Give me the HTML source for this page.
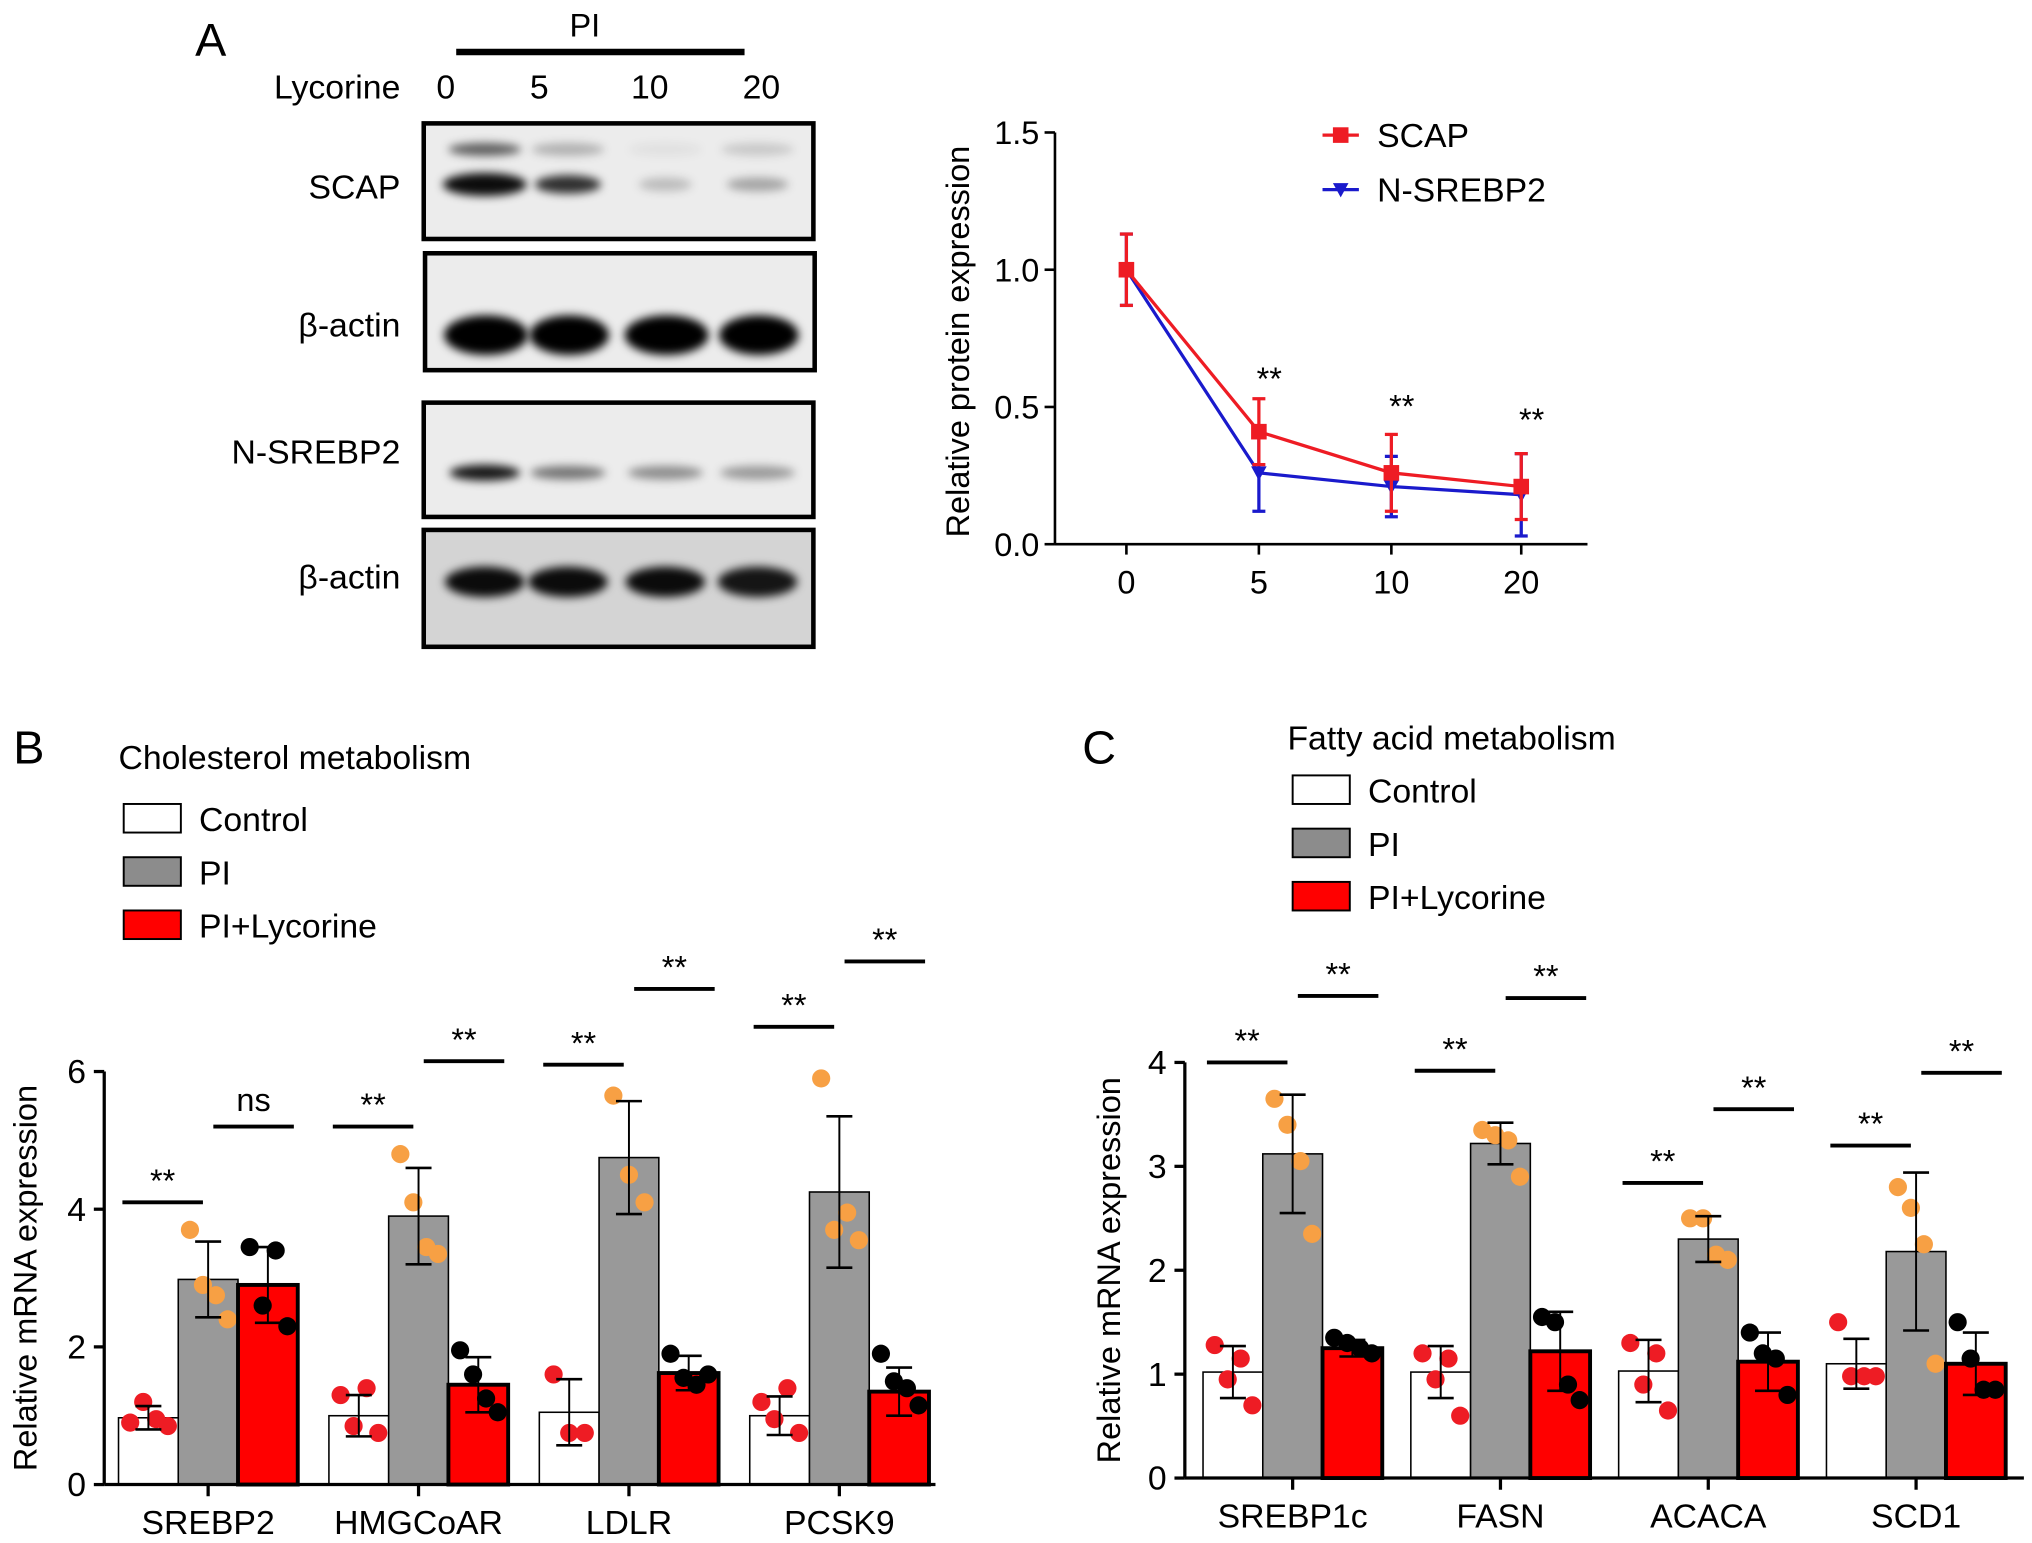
<!DOCTYPE html>
<html><head><meta charset="utf-8"><style>
html,body{margin:0;padding:0;background:#fff}
svg{display:block;font-family:"Liberation Sans",Arial,sans-serif}
</style></head><body>
<svg id="fig" width="2032" height="1543" viewBox="0 0 1564 1188" xmlns="http://www.w3.org/2000/svg">
<defs>
<filter id="blur" x="-50%" y="-100%" width="200%" height="300%"><feGaussianBlur stdDeviation="3.5"/></filter>
</defs>
<g id="panelA">
<text x="150" y="43" font-size="36">A</text>
<text x="450" y="28" font-size="25" text-anchor="middle">PI</text>
<line x1="351" y1="40" x2="573" y2="40" stroke="#000" stroke-width="5"/>
<text x="308" y="76" font-size="26" text-anchor="end">Lycorine</text>
<text x="343" y="76" font-size="26" text-anchor="middle">0</text>
<text x="415" y="76" font-size="26" text-anchor="middle">5</text>
<text x="500" y="76" font-size="26" text-anchor="middle">10</text>
<text x="586" y="76" font-size="26" text-anchor="middle">20</text>
<text x="308" y="153" font-size="26" text-anchor="end">SCAP</text>
<text x="308" y="259" font-size="26" text-anchor="end">β-actin</text>
<text x="308" y="357" font-size="26" text-anchor="end">N-SREBP2</text>
<text x="308" y="453" font-size="26" text-anchor="end">β-actin</text>
<g id="blots"></g>
<g id="lineChart"></g>
</g>
<g id="panelB"></g>
<g id="panelC"></g>
</svg>
<script>
// ===== Panel A line chart data =====
const doseLabels = ['0','5','10','20'];
const scapMean = [1.0, 0.41, 0.26, 0.21];
const scapErr = [0.13, 0.12, 0.14, 0.12];
const srebpMean = [1.0, 0.26, 0.21, 0.18];
const srebpErr = [0.13, 0.14, 0.11, 0.15];
const lineYTicks = [0, 0.5, 1.0, 1.5];
const lineSig = ['', '**', '**', '**'];
const lineSigVal = [0, 0.6, 0.5, 0.45];

// ===== Panel B data =====
const bGenes = ['SREBP2','HMGCoAR','LDLR','PCSK9'];
const bCtrl = [0.97, 1.0, 1.05, 1.0];
const bCtrlErr = [0.17, 0.3, 0.48, 0.28];
const bPI = [2.98, 3.9, 4.75, 4.25];
const bPIErr = [0.55, 0.7, 0.82, 1.1];
const bLyc = [2.9, 1.45, 1.62, 1.35];
const bLycErr = [0.55, 0.4, 0.25, 0.35];
const bCtrlPts = [[0.9,1.2,0.95,0.85],[1.3,0.85,1.4,0.75],[1.6,0.75,0.75],[1.2,0.95,1.4,0.75]];
const bPIPts = [[3.7,2.9,2.75,2.4],[4.8,4.1,3.45,3.35],[5.65,4.5,4.1],[5.9,3.7,3.95,3.55]];
const bLycPts = [[3.45,2.6,3.4,2.3],[1.95,1.6,1.25,1.05],[1.9,1.55,1.45,1.6],[1.9,1.5,1.4,1.15]];
const bYTicks = [0,2,4,6];
const bSigLeft = ['**','**','**','**'];
const bSigLeftVal = [4.1, 5.2, 6.1, 6.65];
const bSigRight = ['ns','**','**','**'];
const bSigRightVal = [5.2, 6.15, 7.2, 7.6];

// ===== Panel C data =====
const cGenes = ['SREBP1c','FASN','ACACA','SCD1'];
const cCtrl = [1.02, 1.02, 1.03, 1.1];
const cCtrlErr = [0.25, 0.25, 0.3, 0.24];
const cPI = [3.12, 3.22, 2.3, 2.18];
const cPIErr = [0.57, 0.2, 0.22, 0.76];
const cLyc = [1.25, 1.22, 1.12, 1.1];
const cLycErr = [0.08, 0.38, 0.28, 0.3];
const cCtrlPts = [[1.28,0.95,1.15,0.7],[1.2,0.95,1.15,0.6],[1.3,0.9,1.2,0.65],[1.5,0.98,0.98,0.98]];
const cPIPts = [[3.65,3.4,3.05,2.35],[3.35,3.3,3.25,2.9],[2.5,2.5,2.15,2.1],[2.8,2.6,2.25,1.1]];
const cLycPts = [[1.35,1.3,1.25,1.2],[1.55,1.5,0.9,0.75],[1.4,1.2,1.15,0.8],[1.5,1.15,0.85,0.85]];
const cYTicks = [0,1,2,3,4];
const cSigLeft = ['**','**','**','**'];
const cSigLeftVal = [4.0, 3.92, 2.84, 3.2];
const cSigRightVal = [4.64, 4.62, 3.55, 3.9];
const cSigRight = ['**','**','**','**'];

const NS = 'http://www.w3.org/2000/svg';
function mk(parent, tag, attrs, text){
  const e = document.createElementNS(NS, tag);
  for (const k in attrs) e.setAttribute(k, attrs[k]);
  if (text !== undefined) e.textContent = text;
  parent.appendChild(e);
  return e;
}

// ===== Blots =====
(function(){
  const g = document.getElementById('blots');
  const boxes = [
    {x:326,y:95,w:300,h:89,name:'blot-scap',bands:[[0.95,0.95,0.1],[0.8,0.75,0.08],[0.2,0.6,0.06],[0.3,0.7,0.06]],by:47,h2:[[0.6],[0.25],[0.05],[0.15]]},
    {x:327,y:195,w:300,h:90,name:'blot-actin-1',bands:[[1,0.95,0.17],[1,0.9,0.17],[1,0.95,0.17],[1,0.9,0.17]],by:63},
    {x:326,y:310,w:300,h:88,name:'blot-nsrebp2',bands:[[0.9,0.8,0.07],[0.5,0.85,0.06],[0.4,0.85,0.06],[0.35,0.85,0.06]],by:54},
    {x:326,y:408,w:300,h:90,name:'blot-actin-2',bands:[[0.95,0.9,0.13],[0.95,0.9,0.13],[0.95,0.9,0.13],[0.9,0.9,0.13]],by:40}
  ];
  const lanes = [47, 111, 186, 257];
  boxes.forEach(b => {
    const bg = mk(g,'g',{});
    
    
    mk(bg,'rect',{x:b.x,y:b.y,width:b.w,height:b.h,fill: b.name==='blot-actin-2' ? '#d4d4d4' : '#ececec'});
    b.bands.forEach((bd,i) => {
      const band = mk(bg,'ellipse',{cx:b.x+lanes[i],cy:b.y+b.by,rx:34*bd[1],ry:b.h*bd[2],fill:'#000','fill-opacity':bd[0],filter:'url(#blur)'});
      
      
      if (b.h2) mk(bg,'ellipse',{cx:b.x+lanes[i],cy:b.y+20,rx:28,ry:5,fill:'#000','fill-opacity':b.h2[i][0],filter:'url(#blur)'});
    });
    mk(bg,'rect',{x:b.x,y:b.y,width:b.w,height:b.h,fill:'none',stroke:'#000','stroke-width':3.5});
  });
})();

// ===== Line chart =====
(function(){
  const g = document.getElementById('lineChart');
  const x0 = 812, yB = 419, yT = 102;
  const xs = [867, 969, 1071, 1171];
  const ySc = v => yB - (v/1.5)*(yB-yT);
  const xSc = i => xs[i];
  mk(g,'line',{x1:x0,y1:yB,x2:1222,y2:yB,stroke:'#000','stroke-width':2});
  mk(g,'line',{x1:x0,y1:yT,x2:x0,y2:yB,stroke:'#000','stroke-width':2});
  lineYTicks.forEach(t => {
    mk(g,'line',{x1:x0-8,y1:ySc(t),x2:x0,y2:ySc(t),stroke:'#000','stroke-width':2});
    const tl = mk(g,'text',{x:x0-12,y:ySc(t)+9,'font-size':25,'text-anchor':'end'}, t.toFixed(1));
    
    
  });
  doseLabels.forEach((d,i) => {
    mk(g,'line',{x1:xSc(i),y1:yB,x2:xSc(i),y2:yB+8,stroke:'#000','stroke-width':2});
    const tl = mk(g,'text',{x:xSc(i),y:yB+38,'font-size':25,'text-anchor':'middle'}, d);
    
    
  });
  const yl = mk(g,'text',{x:0,y:0,'font-size':25,'text-anchor':'middle',transform:`translate(746,263) rotate(-90)`}, 'Relative protein expression');
  
  
  function series(mean, err, color, name, marker){
    const sg = mk(g,'g',{});
    
    
    mean.forEach((m,i) => {
      const x = xSc(i);
      mk(sg,'line',{x1:x,y1:ySc(m-err[i]),x2:x,y2:ySc(m+err[i]),stroke:color,'stroke-width':2.5});
      mk(sg,'line',{x1:x-5,y1:ySc(m-err[i]),x2:x+5,y2:ySc(m-err[i]),stroke:color,'stroke-width':2.5});
      mk(sg,'line',{x1:x-5,y1:ySc(m+err[i]),x2:x+5,y2:ySc(m+err[i]),stroke:color,'stroke-width':2.5});
    });
    mk(sg,'polyline',{points:mean.map((m,i)=>`${xSc(i)},${ySc(m)}`).join(' '),fill:'none',stroke:color,'stroke-width':2.5});
    mean.forEach((m,i) => {
      const x = xSc(i), y = ySc(m);
      const mkr = marker==='sq' ? mk(sg,'rect',{x:x-6,y:y-6,width:12,height:12,fill:color})
        : mk(sg,'polygon',{points:`${x-6},${y-5} ${x+6},${y-5} ${x},${y+6}`,fill:color});
      
      
    });
  }
  series(srebpMean, srebpErr, '#1a1acc', 'series-n-srebp2', 'tri');
  series(scapMean, scapErr, '#ee1c24', 'series-scap', 'sq');
  lineSig.forEach((s,i) => { if (s) {
    const t = mk(g,'text',{x:xSc(i)+8,y:ySc(lineSigVal[i])+8,'font-size':25,'text-anchor':'middle'}, s);
    
    
  }});
  const leg = [['SCAP','#ee1c24','sq',104],['N-SREBP2','#1a1acc','tri',146]];
  leg.forEach(l => {
    const lg = mk(g,'g',{});
    
    
    mk(lg,'line',{x1:1018,y1:l[3],x2:1046,y2:l[3],stroke:l[1],'stroke-width':2.5});
    if (l[2]==='sq') mk(lg,'rect',{x:1026,y:l[3]-6,width:12,height:12,fill:l[1]});
    else mk(lg,'polygon',{points:`1026,${l[3]-5} 1038,${l[3]-5} 1032,${l[3]+6}`,fill:l[1]});
    mk(lg,'text',{x:1060,y:l[3]+9,'font-size':26}, l[0]);
  });
})();

// ===== Bar panels =====
function barPanel(cfg){
  const g = document.getElementById(cfg.id);
  const {x0, x1, yB, yT, vmax, ticks, center0, spacing, bw} = cfg;
  const ySc = v => yB - (v/vmax)*(yB-yT);
  const xSc = i => center0 + i*spacing;
  const lab = mk(g,'text',{x:cfg.labX,y:cfg.labY,'font-size':36}, cfg.label);
  
  
  const tt = mk(g,'text',{x:cfg.legX,y:cfg.legY,'font-size':26}, cfg.title);
  
  
  const legs = [['Control','#fff'],['PI','#8c8c8c'],['PI+Lycorine','#ff0000']];
  legs.forEach((l,i) => {
    const lg = mk(g,'g',{});
    
    
    const y = cfg.legY + cfg.legOff + i*41;
    mk(lg,'rect',{x:cfg.legX+4,y:y,width:44,height:22,fill:l[1],stroke:'#000','stroke-width':1.5});
    mk(lg,'text',{x:cfg.legX+62,y:y+21,'font-size':26}, l[0]);
  });
  const yl = mk(g,'text',{x:0,y:0,'font-size':25,'text-anchor':'middle',transform:`translate(${cfg.ylX},${(yB+yT)/2}) rotate(-90)`}, 'Relative mRNA expression');
  
  
  ticks.forEach(t => {
    mk(g,'line',{x1:x0-8,y1:ySc(t),x2:x0,y2:ySc(t),stroke:'#000','stroke-width':2.5});
    const tl = mk(g,'text',{x:x0-14,y:ySc(t)+9,'font-size':26,'text-anchor':'end'}, String(t));
    
    
  });
  const series = [
    {m:cfg.ctrl,e:cfg.ctrlE,p:cfg.ctrlP,fill:'#fff',dot:'#ee1c24',off:-1,name:'control',sw:1.2},
    {m:cfg.pi,e:cfg.piE,p:cfg.piP,fill:'#999',dot:'#f7a044',off:0,name:'pi',sw:1.2},
    {m:cfg.lyc,e:cfg.lycE,p:cfg.lycP,fill:'#ff0000',dot:'#000',off:1,name:'pi-lycorine',sw:3}
  ];
  cfg.genes.forEach((gn,i) => {
    const cx = xSc(i);
    series.forEach(s => {
      const bx = cx + s.off*bw;
      const bar = mk(g,'rect',{x:bx-bw/2,y:ySc(s.m[i]),width:bw,height:yB-ySc(s.m[i]),fill:s.fill,stroke:'#000','stroke-width':s.sw});
      
      
      const pts = s.p[i];
      const offs = pts.length===3 ? [-12,0,12] : [-14,-4,6,15];
      pts.forEach((v,k) => {
        const d = mk(g,'circle',{cx:bx+offs[k],cy:ySc(v),r:7,fill:s.dot});
        
        
      });
      const lo = ySc(s.m[i]-s.e[i]), hi = ySc(s.m[i]+s.e[i]);
      mk(g,'line',{x1:bx,y1:lo,x2:bx,y2:hi,stroke:'#000','stroke-width':1.5});
      mk(g,'line',{x1:bx-10,y1:lo,x2:bx+10,y2:lo,stroke:'#000','stroke-width':2});
      mk(g,'line',{x1:bx-10,y1:hi,x2:bx+10,y2:hi,stroke:'#000','stroke-width':2});
    });
    mk(g,'line',{x1:cx,y1:yB,x2:cx,y2:yB+9,stroke:'#000','stroke-width':2.5});
    const xl = mk(g,'text',{x:cx,y:yB+38,'font-size':26,'text-anchor':'middle'}, gn);
    
    
    [[cfg.sigL[i],cfg.sigLV[i],cx-bw/2-12],[cfg.sigR[i],cfg.sigRV[i],cx+bw/2+12]].forEach(sg => {
      const y = ySc(sg[1]);
      const ln = mk(g,'line',{x1:sg[2]-31,y1:y,x2:sg[2]+31,y2:y,stroke:'#000','stroke-width':3});
      
      
      const st = mk(g,'text',{x:sg[2],y:y-(sg[0]==='ns'?12:8),'font-size':25,'text-anchor':'middle'}, sg[0]);
      
      
    });
  });
  mk(g,'line',{x1:x0,y1:yT,x2:x0,y2:yB,stroke:'#000','stroke-width':2.5});
  mk(g,'line',{x1:x0,y1:yB,x2:x1,y2:yB,stroke:'#000','stroke-width':2.5});
}
barPanel({id:'panelB',label:'B',labX:10,labY:588,title:'Cholesterol metabolism',legX:91,legY:592,legOff:27,
  x0:80,x1:720,yB:1143,yT:825,vmax:6,ticks:bYTicks,center0:160,spacing:162,bw:46,ylX:28,
  genes:bGenes,ctrl:bCtrl,ctrlE:bCtrlErr,ctrlP:bCtrlPts,pi:bPI,piE:bPIErr,piP:bPIPts,lyc:bLyc,lycE:bLycErr,lycP:bLycPts,
  sigL:bSigLeft,sigLV:bSigLeftVal,sigR:bSigRight,sigRV:bSigRightVal});
barPanel({id:'panelC',label:'C',labX:833,labY:588,title:'Fatty acid metabolism',legX:991,legY:577,legOff:20,
  x0:912,x1:1558,yB:1138,yT:818,vmax:4,ticks:cYTicks,center0:995,spacing:160,bw:46,ylX:862,
  genes:cGenes,ctrl:cCtrl,ctrlE:cCtrlErr,ctrlP:cCtrlPts,pi:cPI,piE:cPIErr,piP:cPIPts,lyc:cLyc,lycE:cLycErr,lycP:cLycPts,
  sigL:cSigLeft,sigLV:cSigLeftVal,sigR:cSigRight,sigRV:cSigRightVal});
</script>
</body></html>
